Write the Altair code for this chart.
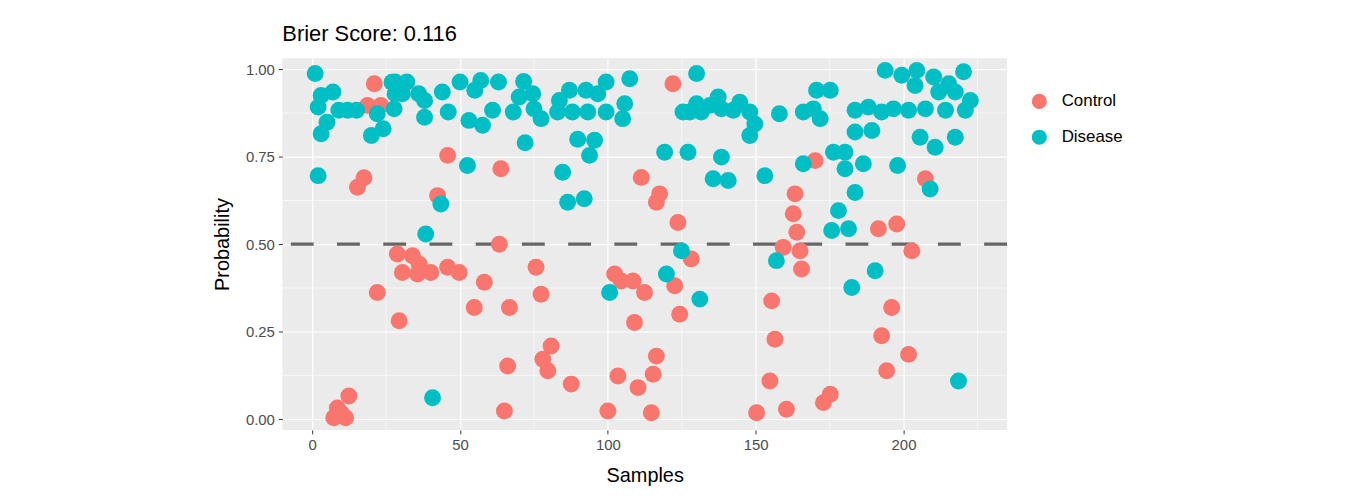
import altair as alt
import pandas as pd

# ---- data ----
control_sample = [21, 18.7, 23.2, 17.5, 15.3, 22, 8.5, 12.4, 7.3, 11.3, 10,
                  45.8, 63.8, 42.4, 63.3, 28.8, 33.9, 36.2, 30.5, 35.6, 40.1,
                  45.8, 49.7, 58.2, 54.8, 66.7, 29.4, 66.1, 65,
                  111.3, 75.7, 77.4, 102.3, 104.5, 108.5, 112.4, 109, 80.8, 78,
                  79.7, 87.6, 103.4, 110.2, 100,
                  122, 117.5, 116.4, 123.7, 128.2, 122.6, 124.3, 116.4, 115.3,
                  114.7, 150.3,
                  170.1, 163.3, 162.7, 163.9, 191.5, 197.7, 159.3, 165, 165.5,
                  155.4, 196, 156.5, 192.6, 194.3, 154.8, 175.2, 172.9, 160.4,
                  207.4, 202.8, 201.7]
control_prob = [0.959, 0.897, 0.897, 0.690, 0.663, 0.362, 0.032, 0.066, 0.004, 0.004, 0.015,
                0.754, 0.716, 0.639, 0.500, 0.472, 0.467, 0.443, 0.419, 0.415, 0.419,
                0.434, 0.419, 0.391, 0.319, 0.319, 0.281, 0.152, 0.023,
                0.691, 0.434, 0.357, 0.415, 0.395, 0.395, 0.362, 0.276, 0.209, 0.171,
                0.138, 0.100, 0.123, 0.090, 0.023,
                0.959, 0.644, 0.620, 0.562, 0.458, 0.381, 0.300, 0.180, 0.128,
                0.018, 0.018,
                0.739, 0.644, 0.587, 0.534, 0.544, 0.558, 0.491, 0.481, 0.429,
                0.338, 0.319, 0.228, 0.238, 0.138, 0.109, 0.071, 0.047, 0.028,
                0.687, 0.481, 0.185]

disease_sample = [1, 3, 7, 2, 9, 12, 15, 5, 3, 20, 24, 22, 27, 2,
                  28, 32, 36, 38, 28, 30.5, 27.7, 38, 44, 46, 50, 53, 55, 57,
                  57.6, 61, 63, 68, 70, 71.5, 72, 52.5, 43.5, 38.4, 40.7,
                  74.6, 75, 77.4, 83, 87, 88, 92.6, 93.2, 96.6, 99.4, 99.4,
                  105.7, 105, 107.4, 83.6, 89.8, 95.5, 93.8, 84.7, 86.4, 92,
                  100.6,
                  130, 125.4, 130, 134.5, 137.3, 138.4, 142.4, 144.6, 148, 149.7,
                  148, 127.7, 131.6, 119.2, 127.1, 138.4, 135.6, 140.7, 153.1,
                  124.9, 119.8, 131.1,
                  158, 193.8, 170.6, 175.2, 166.1, 169.5, 171.8, 183.6, 188.1,
                  192.6, 196.6, 183.6, 189.3, 166.1, 176.3, 180.2, 180.2, 186.4,
                  198, 183.6, 178, 175.7, 181.4, 157, 190.4, 182.5,
                  199.4, 204.5, 203.9, 210.2, 211.9, 215.3, 217.5, 220.3, 222.6,
                  220.9, 201.7, 207.4, 214.2, 205.6, 210.7, 217.5, 209, 218.6]
disease_prob = [0.988, 0.925, 0.935, 0.892, 0.883, 0.883, 0.883, 0.849, 0.816, 0.811, 0.830, 0.873, 0.963, 0.696,
                0.964, 0.964, 0.930, 0.911, 0.930, 0.930, 0.887, 0.863, 0.935, 0.878, 0.964, 0.854, 0.940, 0.968,
                0.840, 0.883, 0.964, 0.878, 0.921, 0.965, 0.790, 0.725, 0.615, 0.529, 0.061,
                0.930, 0.887, 0.859, 0.878, 0.940, 0.878, 0.940, 0.878, 0.930, 0.964, 0.878,
                0.902, 0.859, 0.973, 0.911, 0.800, 0.797, 0.754, 0.706, 0.620, 0.630,
                0.362,
                0.988, 0.878, 0.902, 0.897, 0.921, 0.887, 0.883, 0.906, 0.878, 0.844,
                0.811, 0.878, 0.878, 0.763, 0.763, 0.749, 0.687, 0.682, 0.696,
                0.481, 0.415, 0.343,
                0.873, 0.997, 0.940, 0.940, 0.878, 0.887, 0.859, 0.883, 0.892,
                0.878, 0.887, 0.821, 0.825, 0.730, 0.763, 0.763, 0.716, 0.730,
                0.725, 0.648, 0.596, 0.539, 0.544, 0.453, 0.424, 0.376,
                0.983, 0.997, 0.954, 0.978, 0.935, 0.959, 0.935, 0.993, 0.911,
                0.883, 0.883, 0.887, 0.883, 0.806, 0.777, 0.806, 0.658, 0.109]

groups = ["Control", "Disease"]
group_colors = ["#F8766D", "#00BFC4"]
x_major = [0, 50, 100, 150, 200]
y_major = [0.0, 0.25, 0.5, 0.75, 1.0]
x_minor = [25, 75, 125, 175, 225]
y_minor = [0.125, 0.375, 0.625, 0.875]
threshold = [0.5]
title_text = "Brier Score: 0.116"

df = pd.DataFrame({
    "Samples": control_sample + disease_sample,
    "Probability": control_prob + disease_prob,
    "Group": [groups[0]] * len(control_sample) + [groups[1]] * len(disease_sample),
})

FONT = "Liberation Sans"
xscale = alt.Scale(domain=[-10.1, 235], nice=False, zero=False)
yscale = alt.Scale(domain=[-0.031, 1.032], nice=False, zero=False)

x_axis = alt.Axis(values=x_major, grid=True, gridColor="white", gridWidth=1.2,
                  domain=False, tickColor="#333333", tickSize=4, tickWidth=1,
                  labelFontSize=15, labelColor="#4D4D4D", labelFont=FONT,
                  labelPadding=4, title="Samples", titleFontSize=20,
                  titleFont=FONT, titleFontWeight="normal", titleColor="black",
                  titlePadding=13)
y_axis = alt.Axis(values=y_major, format=".2f", grid=True, gridColor="white",
                  gridWidth=1.2, domain=False, tickColor="#333333", tickSize=4,
                  tickWidth=1, labelFontSize=15, labelColor="#4D4D4D",
                  labelFont=FONT, labelPadding=4, title="Probability",
                  titleFontSize=20, titleFont=FONT, titleFontWeight="normal",
                  titleColor="black", titlePadding=13)

minor_v = alt.Chart(pd.DataFrame({"mx": x_minor})).mark_rule(
    color="white", strokeWidth=0.6
).encode(x=alt.X("mx:Q", scale=xscale, axis=x_axis))

minor_h = alt.Chart(pd.DataFrame({"my": y_minor})).mark_rule(
    color="white", strokeWidth=0.6
).encode(y=alt.Y("my:Q", scale=yscale, axis=y_axis))

dash = alt.Chart(pd.DataFrame({"t": threshold})).mark_rule(
    color="#666666", strokeWidth=3.3, strokeDash=[23, 23.5]
).encode(y=alt.Y("t:Q", scale=yscale, axis=y_axis))

points = alt.Chart(df).mark_circle(size=290, opacity=1).encode(
    x=alt.X("Samples:Q", scale=xscale, axis=x_axis),
    y=alt.Y("Probability:Q", scale=yscale, axis=y_axis),
    color=alt.Color("Group:N", scale=alt.Scale(domain=groups, range=group_colors),
                    legend=alt.Legend(title=None, orient="none", legendX=753, legendY=35,
                                      symbolType="circle", symbolSize=230,
                                      symbolOpacity=1, labelFontSize=17,
                                      labelFont=FONT, labelColor="black",
                                      labelOffset=14, rowPadding=18)),
)

chart = alt.layer(minor_v, minor_h, dash, points).properties(
    width=729,
    height=374,
    background="white",
    title=alt.TitleParams(title_text, anchor="start", frame="group", fontSize=22,
                          font=FONT, fontWeight="normal", color="black", offset=12),
    autosize=alt.AutoSizeParams(type="none"),
    padding={"left": 276, "top": 49, "right": 336, "bottom": 60},
).configure_view(
    fill="#EBEBEB", stroke=None
)

chart.save("out.html", embed_options={"renderer": "svg", "actions": False})
